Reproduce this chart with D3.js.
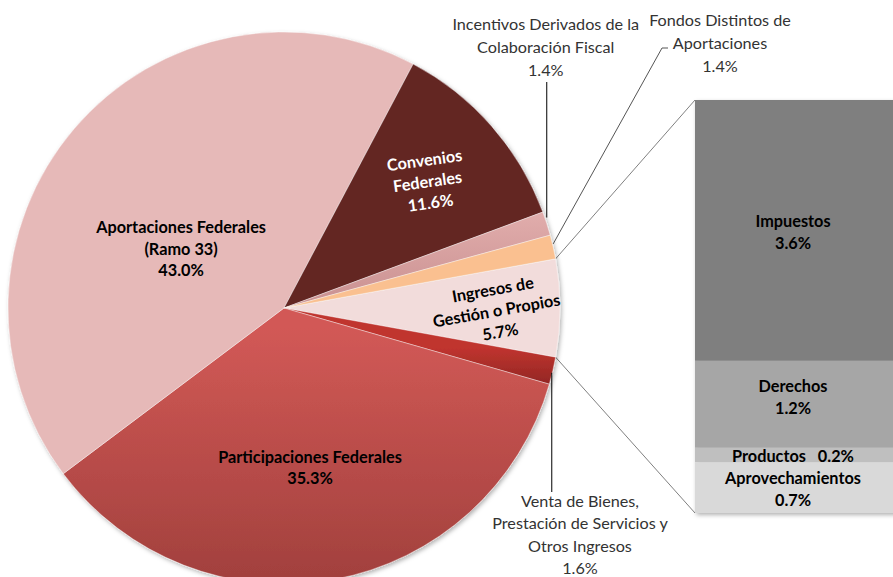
<!DOCTYPE html>
<html>
<head>
<meta charset="utf-8">
<script src="https://cdn.jsdelivr.net/npm/d3@7"></script>
<style>
body{margin:0;background:#fff;}
svg{display:block;font-family:Lato,"Open Sans",sans-serif;}
</style>
</head>
<body>
<svg width="893" height="577"></svg>
<script>
// slices of the pie, clockwise starting from the split slice
var sliceNames = ["Ingresos de Gestión o Propios","Venta de Bienes, Prestación de Servicios y Otros Ingresos","Participaciones Federales","Aportaciones Federales (Ramo 33)","Convenios Federales","Incentivos Derivados de la Colaboración Fiscal","Fondos Distintos de Aportaciones"];
var sliceValues = [5.7,1.6,35.3,43.0,11.6,1.4,1.4];
var sliceColors = ["#F2DCDB","url(#gVenta)","url(#gPart)","#E6B9B8","#632523","url(#gInc)","#FAC090"];

// stacked bar (breakdown of Ingresos de Gestión)
var barNames = ["Impuestos","Derechos","Productos","Aprovechamientos"];
var barValues = [3.6,1.2,0.2,0.7];
var barColors = ["#7F7F7F","#A6A6A6","#BFBFBF","#D9D9D9"];

var width = 893, height = 577;
var cx = 284, cy = 308, R = 276;
var svg = d3.select("svg");

var defs = svg.append("defs");
// gradients are in the pie group's space (origin at pie centre)
function grad(id,c1,c2,ya,yb){
    var g = defs.append("linearGradient").attr("id",id)
        .attr("gradientUnits","userSpaceOnUse")
        .attr("x1",0).attr("y1",ya).attr("x2",0).attr("y2",yb);
    g.append("stop").attr("offset","0").attr("stop-color",c1);
    g.append("stop").attr("offset","1").attr("stop-color",c2);
}
grad("gPart","#D25956","#A1403D",20,R);
grad("gVenta","#C0342F","#8E2522",40,80);
grad("gInc","#E2AEAD","#C99090",-100,0);
var f = defs.append("filter").attr("id","shadow").attr("x","-10%").attr("y","-10%").attr("width","130%").attr("height","130%");
f.append("feDropShadow").attr("dx",1.5).attr("dy",2).attr("stdDeviation",2).attr("flood-color","#000").attr("flood-opacity",0.3);

// d3 angles: clockwise from 12 o'clock; first slice centred on 3 o'clock
var total = d3.sum(sliceValues);
var start = Math.PI/2 - Math.PI*sliceValues[0]/total;
var pie = d3.pie().sort(null).startAngle(start).endAngle(start+2*Math.PI);
var arcs = pie(sliceValues);
var arc = d3.arc().innerRadius(0).outerRadius(R);

function pt(a, r){ return [cx + r*Math.sin(a), cy - r*Math.cos(a)]; }
function mid(d){ return (d.startAngle+d.endAngle)/2; }

// bar
var barX = 695, barW = 220;
var y = d3.scaleLinear().domain([0, d3.sum(barValues)]).range([100, 513]);
var cum = [0];
barValues.forEach(function(v,i){ cum.push(cum[i]+v); });

// connector lines pie -> bar
var pTop = pt(arcs[0].startAngle, R), pBot = pt(arcs[0].endAngle, R);
svg.append("line").attr("x1",pTop[0]).attr("y1",pTop[1]).attr("x2",barX).attr("y2",y(0))
    .attr("stroke","#808080").attr("stroke-width",1);
svg.append("line").attr("x1",pBot[0]).attr("y1",pBot[1]).attr("x2",barX).attr("y2",y(cum[cum.length-1]))
    .attr("stroke","#808080").attr("stroke-width",1);

var bar = svg.append("g").attr("filter","url(#shadow)");
barValues.forEach(function(v,i){
    bar.append("rect").attr("x",barX).attr("width",barW)
        .attr("y",y(cum[i])).attr("height",y(cum[i+1])-y(cum[i]))
        .attr("fill",barColors[i]);
});

// pie
var pg = svg.append("g").attr("transform","translate("+cx+","+cy+")").attr("filter","url(#shadow)");
pg.selectAll("path").data(arcs).enter().append("path")
    .attr("d",arc)
    .attr("fill",function(d,i){ return sliceColors[i]; })
    .attr("stroke","#fff").attr("stroke-width",0.4);

function block(x0, y0, lines, opts){
    var t = svg.append("text").attr("text-anchor","middle")
        .attr("font-size",opts.size||16.2).attr("font-weight",opts.bold?"bold":"normal")
        .attr("fill",opts.color||"#000");
    if(opts.rotate) t.attr("transform","rotate("+opts.rotate+","+x0+","+y0+")");
    var lh = opts.lh||22;
    var y1 = y0 - lh*(lines.length-1)/2 + 5.5;
    lines.forEach(function(s,i){
        t.append("tspan").attr("x",x0).attr("y",y1+i*lh).text(s);
    });
    return t;
}
function pct(v){ return v.toFixed(1)+"%"; }

// inside labels: centroid at 0.6R plus a nudge
var inside = [
    {i:0, lines:["Ingresos de","Gestión o Propios"], off:[47,3], rot:-10, color:"#000"},
    {i:2, lines:["Participaciones Federales"], off:[-4,-3], color:"#000"},
    {i:3, lines:["Aportaciones Federales","(Ramo 33)"], off:[23,49], color:"#000"},
    {i:4, lines:["Convenios","Federales"], off:[19,-17], rot:-8, color:"#fff"}
];
inside.forEach(function(o){
    var p = pt(mid(arcs[o.i]), R*0.6);
    block(p[0]+o.off[0], p[1]+o.off[1], o.lines.concat([pct(sliceValues[o.i])]),
        {bold:true, color:o.color, rotate:o.rot, lh:21.5, size:16.3});
});

// outside labels with leader lines
var pInc = pt(mid(arcs[5]), R);
svg.append("line").attr("x1",pInc[0]).attr("y1",82).attr("x2",pInc[0]).attr("y2",pInc[1]-6)
    .attr("stroke","#000").attr("stroke-width",1);
block(pInc[0]-1, 47, ["Incentivos Derivados de la","Colaboración Fiscal",pct(sliceValues[5])], {color:"#333", lh:23});

var pFon = pt(mid(arcs[6]), R);
svg.append("polyline").attr("points",[[pFon[0],pFon[1]-3],[662,48],[668,48]].join(" "))
    .attr("fill","none").attr("stroke","#555").attr("stroke-width",1);
block(720, 43, ["Fondos Distintos de","Aportaciones",pct(sliceValues[6])], {color:"#333", lh:23});

var pVen = pt(mid(arcs[1]), R);
svg.append("line").attr("x1",pVen[0]-1).attr("y1",pVen[1]+2).attr("x2",pVen[0]-1).attr("y2",492)
    .attr("stroke","#000").attr("stroke-width",1);
block(580, 535, ["Venta de Bienes,","Prestación de Servicios y","Otros Ingresos",pct(sliceValues[1])], {color:"#333", lh:22.5});

// bar labels
var barLabelX = 793;
var barNudge = [2, -7, 1, 2];
barValues.forEach(function(v,i){
    var c = (y(cum[i])+y(cum[i+1]))/2 + barNudge[i];
    if(barNames[i]=="Productos"){
        svg.append("text").attr("x",barLabelX).attr("y",c+5.5).attr("text-anchor","middle")
            .attr("font-size",16.3).attr("font-weight","bold").attr("xml:space","preserve")
            .text(barNames[i]+"   "+pct(v));
    } else {
        block(barLabelX, c, [barNames[i], pct(v)], {bold:true, lh:21.5, size:16.3});
    }
});
</script>
</body>
</html>
